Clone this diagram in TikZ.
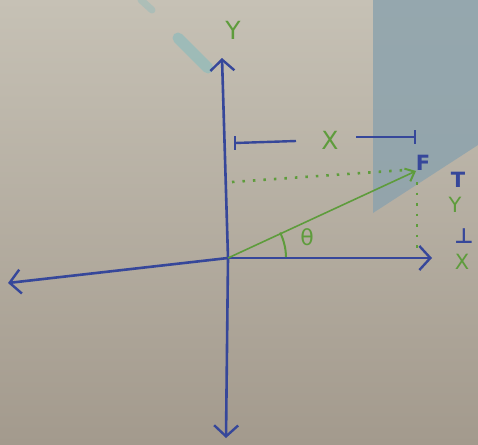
\documentclass[tikz,border=0pt]{standalone}
\usepackage{fontspec}
\setmainfont{DejaVu Sans}
\usetikzlibrary{arrows.meta,calc}
\definecolor{paperdark}{HTML}{A39A8D}
\definecolor{paperlight}{HTML}{C6C1B5}
\definecolor{ink}{HTML}{36479A}
\definecolor{grn}{HTML}{5E9C3C}
\definecolor{glass}{HTML}{8DA3AD}
\definecolor{teal}{HTML}{8FBBBB}
\tikzset{
  axis/.style={ink, line width=2.6pt, line cap=round, -{Straight Barb[length=11pt,width=24pt,line width=2.4pt]}},
  vec/.style={grn, line width=1.6pt, -{Straight Barb[length=8pt,width=14pt,line width=2pt]}},
  dots/.style={grn, line width=2.6pt, dash pattern=on 2.5pt off 8pt},
  glbl/.style={grn, font=\fontsize{25}{25}\selectfont},
  blbl/.style={ink, font=\bfseries\fontsize{21}{21}\selectfont},
  dim/.style={ink, line width=2.4pt},
}
\begin{document}
\begin{tikzpicture}[x=1pt,y=-1pt]
\shade[top color=paperlight, bottom color=paperdark] (0,0) rectangle (478,444);
\useasboundingbox (0,0) rectangle (478,444);
% glass panel
\fill[glass, opacity=0.85] (373,0) -- (478,0) -- (478,145) -- (373,213) -- cycle;
% teal smudge
\draw[teal, line width=11pt, line cap=round, opacity=0.7] (178,38) -- (208,68);
\draw[teal, line width=7pt, line cap=round, opacity=0.45] (141,0) -- (152,10);
% points
\coordinate (O) at (228,258);
\coordinate (Ytop) at (222,58);
\coordinate (Ybot) at (226,438);
\coordinate (Xleft) at (8,283);
\coordinate (Xright) at (432,258);
\coordinate (Fpt) at (416,171);
% axes
\draw[axis] (O) -- (Xright);
\draw[axis] (O) -- (Xleft);
\draw[axis] (O) -- (Ytop);
\draw[axis] (O) -- (Ybot);
% dotted projections
\coordinate (Dl) at (232,182);
\coordinate (Dr) at (405,170);
\coordinate (Vt) at (417,182);
\coordinate (Vb) at (417,250);
\draw[dots] (Dl) -- (Dr);
\draw[dots] (Vt) -- (Vb);
% vector
\draw[vec] (O) -- (Fpt);
% angle
\draw[grn, line width=2pt] (O) ++(-26:58) arc[start angle=-26, end angle=-1, radius=58];
\node[glbl, font=\fontsize{22}{22}\selectfont] (theta) at (307,237) {θ};
% labels
\node[glbl] (ylab) at (233,30) {Y};
\node[blbl] (F) at (423,163) {F};
% X dimension
\coordinate (x1) at (235,143);
\coordinate (x2) at (296,141);
\coordinate (x3) at (356,137);
\coordinate (x4) at (415,137);
\draw[dim] (x1) -- (x2);
\draw[dim] (x3) -- (x4);
\draw[dim] ($(x1)+(0,-7)$) -- ($(x1)+(0,7)$);
\draw[dim] ($(x4)+(0,-7)$) -- ($(x4)+(0,7)$);
\node[glbl] (xlab) at (330,140) {X};
% y dimension on right
\node[blbl] (T) at (458,180) {T};
\node[glbl, font=\fontsize{21}{21}\selectfont] (ylab2) at (455,205) {Y};
\node[blbl] (B) at (464,236) {⊥};
\node[glbl, font=\fontsize{21}{21}\selectfont] (xlab2) at (462,262) {X};
\end{tikzpicture}
\end{document}
